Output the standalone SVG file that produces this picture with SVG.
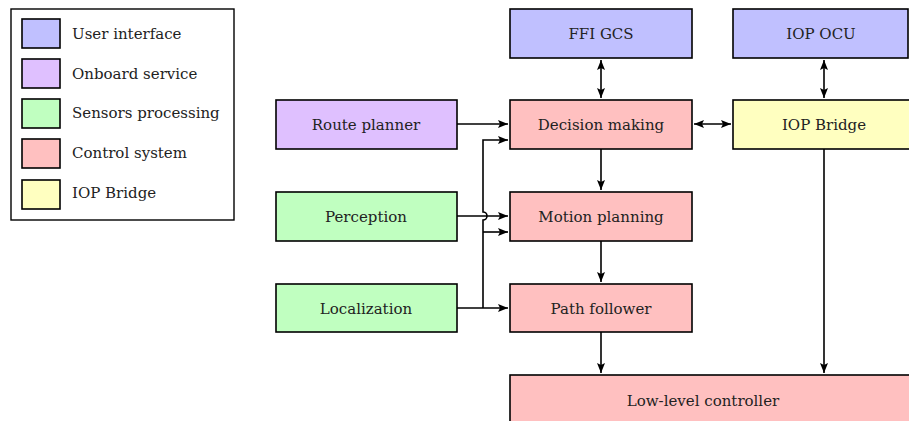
<svg xmlns="http://www.w3.org/2000/svg" width="909" height="421" viewBox="0 0 909 421">
<style>
.box{stroke:#000;stroke-width:1.6}
.ui{fill:#c0c0ff}.ob{fill:#dfc0ff}.sp{fill:#c0ffc0}.cs{fill:#ffc0c0}.ib{fill:#ffffc0}
text{font-family:'DejaVu Serif',serif;font-size:15px;fill:#222}
.c{text-anchor:middle}
.ln{fill:none;stroke:#000;stroke-width:1.6}
</style>
<defs>
<marker id="ah" viewBox="0 0 10 8" refX="10" refY="4" markerWidth="10" markerHeight="8" markerUnits="userSpaceOnUse" orient="auto-start-reverse">
<path d="M0,0 L10,4 L0,8 L2,4 Z" fill="#000"/>
</marker>
</defs>
<g id="legend">
<rect x="11" y="9" width="223" height="211" fill="#fff" stroke="#000" stroke-width="1.4"/>
<rect class="box ui" x="22" y="19" width="38" height="29"/>
<text x="72" y="39">User interface</text>
<rect class="box ob" x="22" y="59" width="38" height="29"/>
<text x="72" y="79">Onboard service</text>
<rect class="box sp" x="22" y="99" width="38" height="29"/>
<text x="72" y="118">Sensors processing</text>
<rect class="box cs" x="22" y="139" width="38" height="29"/>
<text x="72" y="158">Control system</text>
<rect class="box ib" x="22" y="180" width="38" height="29"/>
<text x="72" y="198">IOP Bridge</text>
</g>
<g id="connectors">
<path class="ln" d="M601,60 V98" marker-start="url(#ah)" marker-end="url(#ah)"/>
<path class="ln" d="M824,60 V98" marker-start="url(#ah)" marker-end="url(#ah)"/>
<path class="ln" d="M694,124 H731" marker-start="url(#ah)" marker-end="url(#ah)"/>
<path class="ln" d="M457,124 H508" marker-end="url(#ah)"/>
<path class="ln" d="M601,149 V190" marker-end="url(#ah)"/>
<path class="ln" d="M601,241 V282" marker-end="url(#ah)"/>
<path class="ln" d="M601,332 V373" marker-end="url(#ah)"/>
<path class="ln" d="M824,149 V373" marker-end="url(#ah)"/>
<path class="ln" d="M457,216 H508" marker-end="url(#ah)"/>
<path class="ln" d="M457,308 H508" marker-end="url(#ah)"/>
<path class="ln" d="M483,308 V220 A4,4 0 0 0 483,212 V140 H508" marker-end="url(#ah)"/>
<path class="ln" d="M483,232 H508" marker-end="url(#ah)"/>
</g>
<g id="ffi_gcs"><rect class="box ui" x="510" y="9" width="182" height="49"/><text class="c" x="601" y="39">FFI GCS</text></g>
<g id="iop_ocu"><rect class="box ui" x="733" y="9" width="175" height="49"/><text class="c" x="821" y="39">IOP OCU</text></g>
<g id="route_planner"><rect class="box ob" x="276" y="100" width="181" height="49"/><text class="c" x="366" y="130">Route planner</text></g>
<g id="decision_making"><rect class="box cs" x="510" y="100" width="182" height="49"/><text class="c" x="601" y="130">Decision making</text></g>
<g id="iop_bridge"><rect class="box ib" x="733" y="100" width="190" height="49"/><text class="c" x="824" y="130">IOP Bridge</text></g>
<g id="perception"><rect class="box sp" x="276" y="192" width="181" height="49"/><text class="c" x="366" y="222">Perception</text></g>
<g id="motion_planning"><rect class="box cs" x="510" y="192" width="182" height="49"/><text class="c" x="601" y="222">Motion planning</text></g>
<g id="localization"><rect class="box sp" x="276" y="284" width="181" height="48"/><text class="c" x="366" y="314">Localization</text></g>
<g id="path_follower"><rect class="box cs" x="510" y="284" width="182" height="48"/><text class="c" x="601" y="314">Path follower</text></g>
<g id="low_level_controller"><rect class="box cs" x="510" y="375" width="420" height="60"/><text class="c" x="703" y="406">Low-level controller</text></g>
</svg>
